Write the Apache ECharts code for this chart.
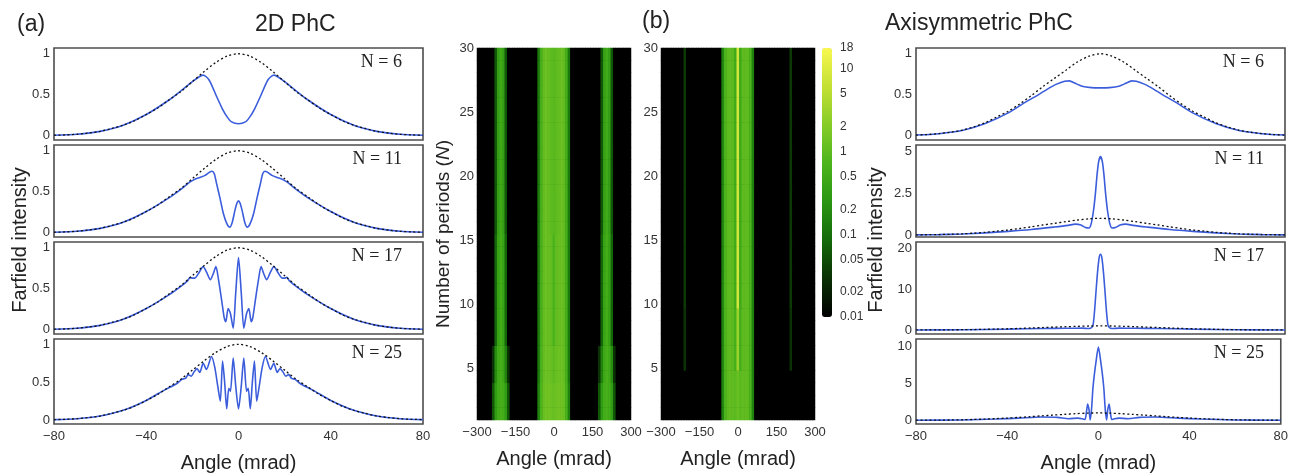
<!DOCTYPE html>
<html>
<head>
<meta charset="utf-8">
<script src="https://cdn.jsdelivr.net/npm/echarts@6/dist/echarts.min.js"></script>
<style>
  html, body { margin: 0; padding: 0; background: #fff; }
  #chart { width: 1291px; height: 474px; }
</style>
</head>
<body>
<div id="chart"></div>
<script>
// far-field curves, angle in mrad vs intensity
const panelLabels = ['N = 6', 'N = 11', 'N = 17', 'N = 25'];
const angleTicks = [-80, -40, 0, 40, 80];
const leftTicks = [[0, 0.5, 1], [0, 0.5, 1], [0, 0.5, 1], [0, 0.5, 1]];
const rightTicks = [[0, 0.5, 1], [0, 2.5, 5], [0, 10, 20], [0, 5, 10]];
const leftRanges = [[-0.05, 1.07], [-0.05, 1.07], [-0.05, 1.07], [-0.05, 1.07]];
const rightRanges = [[-0.05, 1.07], [-0.12, 5.4], [-0.98, 21.5], [-0.5, 11]];

const envLeft = [[-80,0.008],[-75,0.012],[-70,0.02],[-65,0.035],[-60,0.055],[-55,0.09],[-50,0.13],[-45,0.185],[-40,0.26],[-35,0.34],[-30,0.44],[-25,0.54],[-20,0.66],[-15,0.78],[-10,0.89],[-5,0.97],[0,1],[5,0.97],[10,0.89],[15,0.78],[20,0.66],[25,0.54],[30,0.44],[35,0.34],[40,0.26],[45,0.185],[50,0.13],[55,0.09],[60,0.055],[65,0.035],[70,0.02],[75,0.012],[80,0.008]];
const envRight = [[-80,0.01],[-75,0.017],[-70,0.028],[-65,0.045],[-60,0.07],[-55,0.11],[-50,0.16],[-45,0.23],[-40,0.3],[-35,0.39],[-30,0.49],[-25,0.6],[-20,0.7],[-15,0.8],[-10,0.9],[-5,0.97],[0,1],[5,0.97],[10,0.9],[15,0.8],[20,0.7],[25,0.6],[30,0.49],[35,0.39],[40,0.3],[45,0.23],[50,0.16],[55,0.11],[60,0.07],[65,0.045],[70,0.028],[75,0.017],[80,0.01]];

const phc2d_N6 = [[-80,0.008],[-70,0.02],[-60,0.055],[-50,0.13],[-40,0.26],[-30,0.44],[-24,0.57],[-20,0.66],[-17,0.72],[-15.5,0.74],[-14,0.72],[-12.4,0.665],[-9.5,0.48],[-7,0.33],[-5,0.235],[-3,0.17],[0,0.147],[3,0.17],[5,0.235],[7,0.33],[9.5,0.48],[12.4,0.665],[14,0.72],[15.5,0.74],[17,0.72],[20,0.66],[24,0.57],[30,0.44],[40,0.26],[50,0.13],[60,0.055],[70,0.02],[80,0.008]];
const phc2d_N11 = [[-80,0.008],[-70,0.02],[-60,0.055],[-50,0.13],[-40,0.26],[-30,0.43],[-25,0.53],[-21,0.62],[-18.5,0.66],[-16.8,0.675],[-14.5,0.7],[-12.5,0.74],[-11.5,0.75],[-10.5,0.72],[-9.5,0.6],[-8,0.42],[-6.6,0.24],[-5,0.11],[-3.8,0.07],[-2.8,0.12],[-1.5,0.28],[-0.7,0.36],[0,0.39],[0.7,0.36],[1.5,0.28],[2.8,0.12],[3.8,0.07],[5,0.11],[6.6,0.24],[8,0.42],[9.5,0.6],[10.5,0.72],[11.5,0.75],[12.5,0.74],[14.5,0.7],[16.8,0.675],[18.5,0.66],[21,0.62],[25,0.53],[30,0.43],[40,0.26],[50,0.13],[60,0.055],[70,0.02],[80,0.008]];
const phc2d_N17 = [[-80,0.008],[-70,0.02],[-60,0.055],[-50,0.13],[-40,0.26],[-30,0.43],[-25,0.53],[-22,0.6],[-21,0.64],[-20,0.63],[-19,0.63],[-17.5,0.68],[-15.3,0.77],[-13.8,0.7],[-12.2,0.61],[-11,0.68],[-9.8,0.77],[-8.6,0.6],[-7.3,0.36],[-6.2,0.15],[-5.5,0.1],[-4.5,0.26],[-3.5,0.2],[-2.3,0.02],[-1.2,0.45],[0,0.88],[1.2,0.45],[2.3,0.02],[3.5,0.2],[4.5,0.26],[5.5,0.1],[6.2,0.15],[7.3,0.36],[8.6,0.6],[9.8,0.77],[11,0.68],[12.2,0.61],[13.8,0.7],[15.3,0.77],[17.5,0.68],[19,0.63],[20,0.63],[21,0.64],[22,0.6],[25,0.53],[30,0.43],[40,0.26],[50,0.13],[60,0.055],[70,0.02],[80,0.008]];
const phc2d_N25 = [[-80,0.008],[-70,0.02],[-60,0.055],[-50,0.13],[-40,0.26],[-32,0.4],[-28,0.46],[-26,0.5],[-24.5,0.54],[-23,0.55],[-21.8,0.6],[-20.5,0.58],[-19.2,0.64],[-18,0.68],[-16.8,0.63],[-15.3,0.75],[-13.9,0.67],[-11.7,0.84],[-10.3,0.7],[-9,0.45],[-7.9,0.25],[-6.9,0.78],[-6,0.5],[-5.1,0.15],[-4.2,0.42],[-3.5,0.38],[-2.3,0.82],[-1.2,0.45],[0,0.15],[1.2,0.45],[2.3,0.82],[3.5,0.38],[4.2,0.42],[5.1,0.15],[6,0.5],[6.9,0.78],[7.9,0.25],[9,0.45],[10.3,0.7],[11.7,0.84],[13.9,0.67],[15.3,0.75],[16.8,0.63],[18,0.68],[19.2,0.64],[20.5,0.58],[21.8,0.6],[23,0.55],[24.5,0.54],[26,0.5],[28,0.46],[32,0.4],[40,0.26],[50,0.13],[60,0.055],[70,0.02],[80,0.008]];

const axi_N6 = [[-80,0.01],[-70,0.027],[-60,0.065],[-50,0.15],[-40,0.28],[-32,0.42],[-27,0.5],[-23,0.57],[-19,0.63],[-15.5,0.665],[-13.5,0.67],[-11,0.64],[-8,0.605],[-4,0.588],[0,0.585],[4,0.588],[8,0.605],[11,0.64],[13.5,0.67],[15.5,0.665],[19,0.63],[23,0.57],[27,0.5],[32,0.42],[40,0.28],[50,0.15],[60,0.065],[70,0.027],[80,0.01]];
const axi_N11 = [[-80,0.01],[-70,0.025],[-60,0.06],[-50,0.13],[-40,0.22],[-30,0.33],[-20,0.48],[-14,0.58],[-11,0.65],[-8.5,0.6],[-6.5,0.45],[-5,0.42],[-4,0.7],[-3,1.5],[-2.2,2.5],[-1.5,3.6],[-0.8,4.4],[0,4.7],[0.8,4.4],[1.5,3.6],[2.2,2.5],[3,1.5],[4,0.7],[5,0.42],[6.5,0.45],[8.5,0.6],[11,0.65],[14,0.58],[20,0.48],[30,0.33],[40,0.22],[50,0.13],[60,0.06],[70,0.025],[80,0.01]];
const axi_N17 = [[-80,0.01],[-60,0.05],[-40,0.2],[-25,0.38],[-15,0.42],[-8,0.45],[-5,0.35],[-3.8,0.6],[-3.2,1.3],[-2.6,4.5],[-2,9],[-1.3,14],[-0.6,17.6],[0,18.5],[0.6,17.6],[1.3,14],[2,9],[2.6,4.5],[3.2,1.3],[3.8,0.6],[5,0.35],[8,0.45],[15,0.42],[25,0.38],[40,0.2],[60,0.05],[80,0.01]];
const axi_N25 = [[-80,0.01],[-60,0.05],[-45,0.17],[-35,0.3],[-25,0.45],[-18,0.4],[-13,0.22],[-9,0.3],[-7,0.2],[-5.9,0.1],[-5.2,1.2],[-4.7,2.2],[-4.1,1.4],[-3.6,0.05],[-3,1.5],[-2.4,4.3],[-1.8,6.1],[-1,8],[0,9.9],[1,8],[1.8,6.1],[2.4,4.3],[3,1.5],[3.6,0.05],[4.1,1.4],[4.7,2.2],[5.2,1.2],[5.9,0.1],[7,0.2],[9,0.3],[13,0.22],[18,0.4],[25,0.45],[35,0.3],[45,0.17],[60,0.05],[80,0.01]];

const leftCurves = [phc2d_N6, phc2d_N11, phc2d_N17, phc2d_N25];
const rightCurves = [axi_N6, axi_N11, axi_N17, axi_N25];

// heatmaps: 10 mrad columns, one row per period count
const heatAngleTicks = [-300, -150, 0, 150, 300];
const periodTicks = [5, 10, 15, 20, 25, 30];
const colorTicks = [0.01, 0.02, 0.05, 0.1, 0.2, 0.5, 1, 2, 5, 10, 18];
const background = 0.01;

const heatA_low = [[-240,0.06],[-230,0.3],[-220,0.55],[-210,0.6],[-200,0.55],[-190,0.3],[-180,0.06],[-60,0.15],[-50,0.7],[-40,1.2],[-30,1.4],[-20,1.4],[-10,1.3],[0,1.2],[10,1.3],[20,1.4],[30,1.4],[40,1.2],[50,0.7],[60,0.15],[180,0.06],[190,0.3],[200,0.55],[210,0.6],[220,0.55],[230,0.3],[240,0.06]];
const heatA_lowmid = [[-240,0.03],[-230,0.2],[-220,0.5],[-210,0.6],[-200,0.45],[-190,0.15],[-180,0.03],[-60,0.12],[-50,0.65],[-40,1.15],[-30,1.35],[-20,1.3],[-10,1.2],[0,1.0],[10,1.2],[20,1.3],[30,1.35],[40,1.15],[50,0.65],[60,0.12],[180,0.03],[190,0.15],[200,0.45],[210,0.6],[220,0.5],[230,0.2],[240,0.03]];
const heatA_mid = [[-230,0.08],[-220,0.4],[-210,0.55],[-200,0.4],[-190,0.08],[-60,0.12],[-50,0.6],[-40,1.1],[-30,1.3],[-20,1.2],[-10,1.1],[0,0.7],[10,1.1],[20,1.2],[30,1.3],[40,1.1],[50,0.6],[60,0.12],[190,0.08],[200,0.4],[210,0.55],[220,0.4],[230,0.08]];
const heatA_high = [[-230,0.06],[-220,0.35],[-210,0.5],[-200,0.35],[-190,0.06],[-60,0.12],[-50,0.6],[-40,1.1],[-30,1.3],[-20,1.15],[-10,1.0],[0,0.9],[10,1.0],[20,1.15],[30,1.3],[40,1.1],[50,0.6],[60,0.12],[190,0.06],[200,0.35],[210,0.5],[220,0.35],[230,0.06]];
const heatB_low = [[-60,0.15],[-50,0.7],[-40,1.0],[-30,1.1],[-20,1.05],[-10,0.95],[0,1.2],[10,0.95],[20,1.05],[30,1.1],[40,1.0],[50,0.7],[60,0.15]];
const heatB_mid = [[-210,0.03],[-60,0.15],[-50,0.7],[-40,1.0],[-30,1.05],[-20,1.0],[-10,0.6],[0,3],[10,0.6],[20,1.0],[30,1.05],[40,1.0],[50,0.7],[60,0.15],[210,0.03]];
const heatB_high = [[-210,0.035],[-60,0.15],[-50,0.7],[-40,1.0],[-30,1.05],[-20,1.0],[-10,0.5],[0,8],[10,0.5],[20,1.0],[30,1.05],[40,1.0],[50,0.7],[60,0.15],[210,0.035]];
const heatA_rows = [[1, 3, heatA_low], [4, 6, heatA_lowmid], [7, 15, heatA_mid], [16, 30, heatA_high]];
const heatB_rows = [[1, 4, heatB_low], [5, 9, heatB_mid], [10, 30, heatB_high]];

const heatAngles = [];
for (let a = -300; a <= 300; a += 10) heatAngles.push(a);
const periods = [];
for (let n = 1; n <= 30; n++) periods.push(n);

function buildCells(rows) {
  const cells = [];
  rows.forEach(([from, to, profile]) => {
    for (let n = from; n <= to; n++) {
      heatAngles.forEach((a, i) => {
        const hit = profile.find(p => p[0] === a);
        cells.push([i, n - 1, Math.log10(hit ? hit[1] : background)]);
      });
    }
  });
  return cells;
}

const FONT = '"Liberation Sans", Arial, sans-serif';
const SERIF = '"Liberation Serif", "Times New Roman", serif';
const minus = v => String(v).replace('-', '\u2212');

const panelTops = [48, 145, 242, 339];
const PANEL_H = 92, PANEL_W = 369;
const sideX = [54, 916];

const grids = [], xAxes = [], yAxes = [], series = [], texts = [];

sideX.forEach((gx, side) => {
  panelTops.forEach((top, k) => {
    const idx = grids.length;
    const last = k === 3;
    grids.push({ left: gx, top: top, width: PANEL_W, height: PANEL_H, show: true,
      borderColor: '#4d4d4d', borderWidth: 1.6, backgroundColor: '#fff' });
    xAxes.push({ type: 'value', gridIndex: idx, min: -80, max: 80, interval: 40,
      axisLine: { show: false }, axisTick: { show: false }, splitLine: { show: false },
      axisLabel: { show: last, formatter: minus, fontSize: 13, color: '#333', fontFamily: FONT, margin: 6 },
      name: last ? 'Angle (mrad)' : '', nameLocation: 'middle', nameGap: 29,
      nameTextStyle: { fontSize: 20, color: '#222', fontFamily: FONT } });
    const rng = side === 0 ? leftRanges[k] : rightRanges[k];
    yAxes.push({ type: 'value', gridIndex: idx, min: rng[0], max: rng[1],
      axisLine: { show: false }, axisTick: { show: false }, splitLine: { show: false },
      axisLabel: { customValues: side === 0 ? leftTicks[k] : rightTicks[k],
        fontSize: 13, color: '#333', fontFamily: FONT, margin: 4 } });
    series.push({ type: 'line', xAxisIndex: idx, yAxisIndex: idx,
      data: side === 0 ? leftCurves[k] : rightCurves[k],
      showSymbol: false, smooth: 0.25, lineStyle: { color: '#3b5ddc', width: 1.6 }, z: 3 });
    series.push({ type: 'line', xAxisIndex: idx, yAxisIndex: idx,
      data: side === 0 ? envLeft : envRight,
      showSymbol: false, smooth: 0.3, lineStyle: { color: '#111', width: 1.3, type: [2, 2.5] }, z: 4 });
    texts.push({ type: 'text', x: side === 0 ? 402 : 1264, y: top + 14,
      style: { text: panelLabels[k], font: '18px ' + SERIF, fill: '#222',
        textAlign: 'right', align: 'right', textVerticalAlign: 'middle', verticalAlign: 'middle' } });
  });
});

// heatmap grids: category axes carry the cells, value axes carry the labels
const heatGrids = [
  { left: 477, cells: buildCells(heatA_rows), yName: true },
  { left: 661, cells: buildCells(heatB_rows), yName: false }
];
heatGrids.forEach(h => {
  const idx = grids.length;
  grids.push({ left: h.left, top: 48, width: 154, height: 384, show: true,
    backgroundColor: '#000', borderWidth: 0 });
  const xCat = xAxes.length;
  xAxes.push({ type: 'category', gridIndex: idx, data: heatAngles.map(String), show: false, position: 'top' });
  xAxes.push({ type: 'value', gridIndex: idx, min: -300, max: 300, position: 'bottom',
    axisLine: { show: false }, axisTick: { show: false }, splitLine: { show: false },
    axisLabel: { customValues: heatAngleTicks, formatter: minus, fontSize: 13, color: '#333', fontFamily: FONT, margin: 6 },
    name: 'Angle (mrad)', nameLocation: 'middle', nameGap: 29,
    nameTextStyle: { fontSize: 20, color: '#222', fontFamily: FONT } });
  const yCat = yAxes.length;
  yAxes.push({ type: 'category', gridIndex: idx, data: periods.map(String), show: false, position: 'right' });
  yAxes.push({ type: 'value', gridIndex: idx, min: 1, max: 30, position: 'left',
    axisLine: { show: false }, axisTick: { show: false }, splitLine: { show: false },
    axisLabel: { customValues: periodTicks, fontSize: 13, color: '#333', fontFamily: FONT, margin: 3 },
    name: h.yName ? '{t|Number of periods (}{i|N}{t|)}' : '', nameLocation: 'middle', nameGap: 24,
    nameTextStyle: { rich: {
      t: { fontSize: 19, color: '#222', fontFamily: FONT },
      i: { fontSize: 19, color: '#222', fontFamily: FONT, fontStyle: 'italic' } } } });
  series.push({ type: 'heatmap', xAxisIndex: xCat, yAxisIndex: yCat, data: h.cells,
    emphasis: { disabled: true }, itemStyle: { borderWidth: 0 }, progressive: 0 });
});

// colour bar labels (log scale)
const cbIdx = grids.length;
grids.push({ left: 822, top: 48, width: 10, height: 269, show: false });
xAxes.push({ type: 'value', gridIndex: cbIdx, show: false, min: 0, max: 1 });
yAxes.push({ type: 'value', gridIndex: cbIdx, position: 'right', min: -2, max: Math.log10(18),
  axisLine: { show: false }, axisTick: { show: false }, splitLine: { show: false },
  axisLabel: { customValues: colorTicks.map(Math.log10), fontSize: 12, color: '#333', fontFamily: FONT, margin: 8,
    formatter: v => {
      let best = colorTicks[0];
      colorTicks.forEach(c => { if (Math.abs(Math.log10(c) - v) < Math.abs(Math.log10(best) - v)) best = c; });
      return String(best);
    } } });

const heatSeriesIdx = [series.length - 2, series.length - 1];

texts.push(
  { type: 'text', x: 17, y: 25, style: { text: '(a)', font: '23px ' + FONT, fill: '#222', textVerticalAlign: 'middle', verticalAlign: 'middle' } },
  { type: 'text', x: 255, y: 25, style: { text: '2D PhC', font: '23px ' + FONT, fill: '#222', textVerticalAlign: 'middle', verticalAlign: 'middle' } },
  { type: 'text', x: 642, y: 22, style: { text: '(b)', font: '23px ' + FONT, fill: '#222', textVerticalAlign: 'middle', verticalAlign: 'middle' } },
  { type: 'text', x: 885, y: 24, style: { text: 'Axisymmetric PhC', font: '23px ' + FONT, fill: '#222', textVerticalAlign: 'middle', verticalAlign: 'middle' } },
  { type: 'text', x: 20, y: 240, rotation: Math.PI / 2,
    style: { text: 'Farfield intensity', font: '20px ' + FONT, fill: '#222', x: 0, y: 0,
      textAlign: 'center', align: 'center', textVerticalAlign: 'middle', verticalAlign: 'middle' } },
  { type: 'text', x: 876, y: 240, rotation: Math.PI / 2,
    style: { text: 'Farfield intensity', font: '20px ' + FONT, fill: '#222', x: 0, y: 0,
      textAlign: 'center', align: 'center', textVerticalAlign: 'middle', verticalAlign: 'middle' } }
);

const chart = echarts.init(document.getElementById('chart'));
chart.setOption({
  animation: false,
  backgroundColor: '#fff',
  grid: grids,
  xAxis: xAxes,
  yAxis: yAxes,
  visualMap: {
    type: 'continuous', min: -2, max: Math.log10(18), dimension: 2,
    seriesIndex: heatSeriesIdx, calculable: false, show: true, orient: 'vertical',
    left: 822, top: 48, itemWidth: 10, itemHeight: 269, padding: 0,
    inRange: { color: ['#000000', '#0a3004', '#146a0a', '#2a9612', '#4cb41c', '#86cc28', '#c4e034', '#f8f850'] }
  },
  graphic: texts,
  series: series
});
</script>
</body>
</html>
